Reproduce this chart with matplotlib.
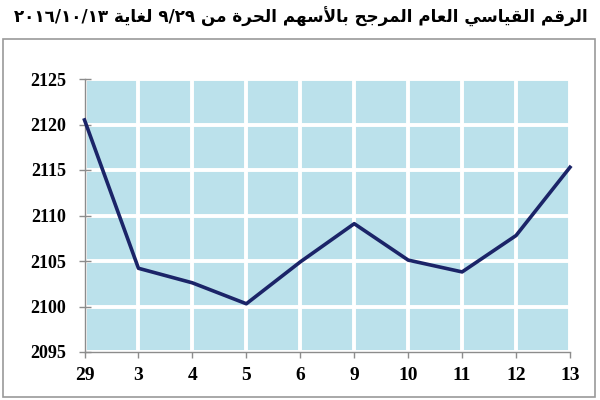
import matplotlib
matplotlib.use("Agg")
import matplotlib.pyplot as plt
from matplotlib.patches import Rectangle

# Data (free-float weighted general index)
days = ["29", "3", "4", "5", "6", "9", "10", "11", "12", "13"]
index_values = [2120.5, 2104.2, 2102.6, 2100.3, 2104.9, 2109.1, 2105.1, 2103.8, 2107.8, 2115.3]
y_ticks = [2095, 2100, 2105, 2110, 2115, 2120, 2125]

# title pieces, in reading order (right to left); numbers already in visual order
title_words = ["الرقم", "القياسي", "العام", "المرجح", "بالأسهم", "الحرة", "من",
               "٩/٢٩", "لغاية", "٢٠١٦/١٠/١٣"]

# isolated, final, initial, medial presentation forms
FORMS = {
    "ا": ("\uFE8D", "\uFE8E", None, None),
    "أ": ("\uFE83", "\uFE84", None, None),
    "ب": ("\uFE8F", "\uFE90", "\uFE91", "\uFE92"),
    "ة": ("\uFE93", "\uFE94", None, None),
    "ج": ("\uFE9D", "\uFE9E", "\uFE9F", "\uFEA0"),
    "ح": ("\uFEA1", "\uFEA2", "\uFEA3", "\uFEA4"),
    "ر": ("\uFEAD", "\uFEAE", None, None),
    "س": ("\uFEB1", "\uFEB2", "\uFEB3", "\uFEB4"),
    "ع": ("\uFEC9", "\uFECA", "\uFECB", "\uFECC"),
    "غ": ("\uFECD", "\uFECE", "\uFECF", "\uFED0"),
    "ق": ("\uFED5", "\uFED6", "\uFED7", "\uFED8"),
    "ل": ("\uFEDD", "\uFEDE", "\uFEDF", "\uFEE0"),
    "م": ("\uFEE1", "\uFEE2", "\uFEE3", "\uFEE4"),
    "ن": ("\uFEE5", "\uFEE6", "\uFEE7", "\uFEE8"),
    "ه": ("\uFEE9", "\uFEEA", "\uFEEB", "\uFEEC"),
    "ي": ("\uFEF1", "\uFEF2", "\uFEF3", "\uFEF4"),
}
LAM_ALEF = {"ا": ("\uFEFB", "\uFEFC"), "أ": ("\uFEF7", "\uFEF8")}


def dual(ch):
    return ch in FORMS and FORMS[ch][2] is not None


def shape_word(word):
    """Join Arabic letters and return the word in visual (left-to-right) order."""
    if word[0] not in FORMS:
        return word
    out = []
    i = 0
    while i < len(word):
        ch = word[i]
        prev = word[i - 1] if i > 0 else None
        joins_prev = prev is not None and dual(prev)
        if ch == "ل" and i + 1 < len(word) and word[i + 1] in LAM_ALEF:
            out.append(LAM_ALEF[word[i + 1]][1 if joins_prev else 0])
            i += 2
            continue
        nxt = word[i + 1] if i + 1 < len(word) else None
        joins_next = nxt is not None and nxt in FORMS and dual(ch)
        iso, fin, ini, med = FORMS[ch]
        if joins_prev and joins_next:
            out.append(med)
        elif joins_prev:
            out.append(fin)
        elif joins_next:
            out.append(ini)
        else:
            out.append(iso)
        i += 1
    return "".join(reversed(out))


title = " ".join(shape_word(w) for w in reversed(title_words))

plt.rcParams["font.family"] = ["Liberation Serif", "DejaVu Serif"]

fig = plt.figure(figsize=(6, 4), dpi=100)
ax = fig.add_axes([84.5 / 600, 1 - 352 / 400, (570 - 84.5) / 600, (352 - 79) / 400])

x = list(range(len(days)))
ax.plot(x, index_values, color="#1b2468", linewidth=2.6, zorder=3, clip_on=False)

ax.set_xlim(0, len(days) - 1)
ax.set_ylim(y_ticks[0], y_ticks[-1])
ax.set_xticks(x)
ax.set_xticklabels(days)
ax.set_yticks(y_ticks)

ax.set_facecolor("#bbe1eb")
ax.grid(True, color="white", linewidth=2.8)
for side in ["top", "right"]:
    ax.spines[side].set_visible(False)
for side in ["left", "bottom"]:
    ax.spines[side].set_color("#8c8c8c")
    ax.spines[side].set_linewidth(1.0)

ax.tick_params(axis="y", direction="inout", length=9, width=1, color="#8c8c8c",
               pad=8.5, labelsize=13)
ax.tick_params(axis="x", direction="out", length=4.5, width=1, color="#8c8c8c",
               pad=6.5, labelsize=14)
for lab in ax.get_xticklabels() + ax.get_yticklabels():
    lab.set_fontweight("bold")

fig.text(0.502, 1 - 17 / 400, title, ha="center", va="center",
         fontsize=12.1, fontweight="bold", family=["DejaVu Sans"])

fig.patches.append(Rectangle((3 / 600, 1 - 397 / 400), 592 / 600, 358 / 400,
                             transform=fig.transFigure, fill=False,
                             edgecolor="#9a9a9a", linewidth=1.2))

fig.savefig("out.png", dpi=100)
